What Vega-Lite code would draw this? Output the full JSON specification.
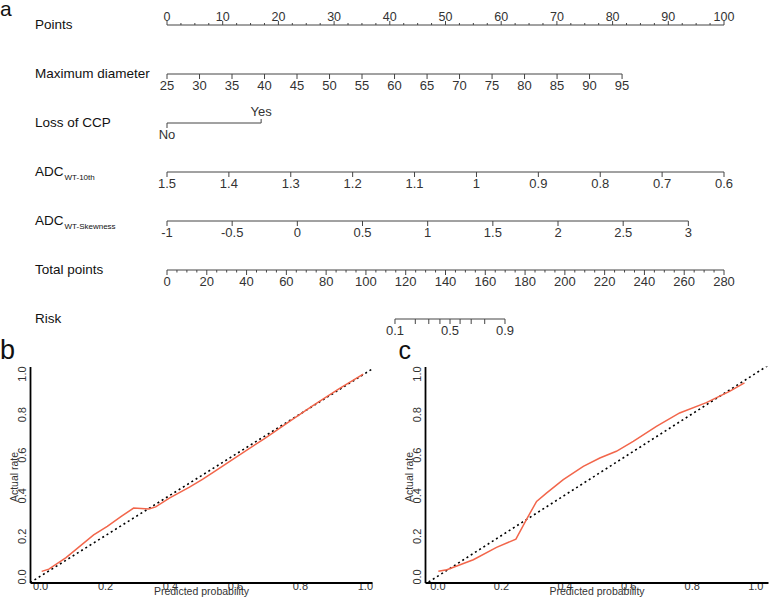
{
  "$schema": "https://vega.github.io/schema/vega-lite/v6.json",
  "padding": {"left": 0, "top": -2, "right": 0, "bottom": 0},
  "background": "white",
  "bounds": "flush",
  "spacing": 25.5,
  "config": {"font": "Liberation Sans", "view": {"stroke": null}},
  "datasets": {
    "lines": [
      {"row": 0, "from": 0, "to": 100},
      {"row": 1, "from": 0, "to": 81.7},
      {"row": 2, "from": 0, "to": 16.9},
      {"row": 3, "from": 0, "to": 100},
      {"row": 4, "from": 0, "to": 93.6},
      {"row": 5, "from": 0, "to": 100},
      {"row": 6, "from": 40.93, "to": 60.68}
    ],
    "names": [
      {"row": 0, "name": "Points", "sub": ""},
      {"row": 1, "name": "Maximum diameter", "sub": ""},
      {"row": 2, "name": "Loss of CCP", "sub": ""},
      {"row": 3, "name": "ADC", "sub": "WT-10th"},
      {"row": 4, "name": "ADC", "sub": "WT-Skewness"},
      {"row": 5, "name": "Total points", "sub": ""},
      {"row": 6, "name": "Risk", "sub": ""}
    ],
    "ticks": [
      {"row": 0, "pts": 0, "label": "0", "minor": false},
      {"row": 0, "pts": 2.5, "label": "", "minor": true},
      {"row": 0, "pts": 5, "label": "", "minor": true},
      {"row": 0, "pts": 7.5, "label": "", "minor": true},
      {"row": 0, "pts": 10, "label": "10", "minor": false},
      {"row": 0, "pts": 12.5, "label": "", "minor": true},
      {"row": 0, "pts": 15, "label": "", "minor": true},
      {"row": 0, "pts": 17.5, "label": "", "minor": true},
      {"row": 0, "pts": 20, "label": "20", "minor": false},
      {"row": 0, "pts": 22.5, "label": "", "minor": true},
      {"row": 0, "pts": 25, "label": "", "minor": true},
      {"row": 0, "pts": 27.5, "label": "", "minor": true},
      {"row": 0, "pts": 30, "label": "30", "minor": false},
      {"row": 0, "pts": 32.5, "label": "", "minor": true},
      {"row": 0, "pts": 35, "label": "", "minor": true},
      {"row": 0, "pts": 37.5, "label": "", "minor": true},
      {"row": 0, "pts": 40, "label": "40", "minor": false},
      {"row": 0, "pts": 42.5, "label": "", "minor": true},
      {"row": 0, "pts": 45, "label": "", "minor": true},
      {"row": 0, "pts": 47.5, "label": "", "minor": true},
      {"row": 0, "pts": 50, "label": "50", "minor": false},
      {"row": 0, "pts": 52.5, "label": "", "minor": true},
      {"row": 0, "pts": 55, "label": "", "minor": true},
      {"row": 0, "pts": 57.5, "label": "", "minor": true},
      {"row": 0, "pts": 60, "label": "60", "minor": false},
      {"row": 0, "pts": 62.5, "label": "", "minor": true},
      {"row": 0, "pts": 65, "label": "", "minor": true},
      {"row": 0, "pts": 67.5, "label": "", "minor": true},
      {"row": 0, "pts": 70, "label": "70", "minor": false},
      {"row": 0, "pts": 72.5, "label": "", "minor": true},
      {"row": 0, "pts": 75, "label": "", "minor": true},
      {"row": 0, "pts": 77.5, "label": "", "minor": true},
      {"row": 0, "pts": 80, "label": "80", "minor": false},
      {"row": 0, "pts": 82.5, "label": "", "minor": true},
      {"row": 0, "pts": 85, "label": "", "minor": true},
      {"row": 0, "pts": 87.5, "label": "", "minor": true},
      {"row": 0, "pts": 90, "label": "90", "minor": false},
      {"row": 0, "pts": 92.5, "label": "", "minor": true},
      {"row": 0, "pts": 95, "label": "", "minor": true},
      {"row": 0, "pts": 97.5, "label": "", "minor": true},
      {"row": 0, "pts": 100, "label": "100", "minor": false},
      {"row": 1, "pts": 0, "label": "25", "minor": false},
      {"row": 1, "pts": 5.84, "label": "30", "minor": false},
      {"row": 1, "pts": 11.67, "label": "35", "minor": false},
      {"row": 1, "pts": 17.51, "label": "40", "minor": false},
      {"row": 1, "pts": 23.34, "label": "45", "minor": false},
      {"row": 1, "pts": 29.18, "label": "50", "minor": false},
      {"row": 1, "pts": 35.01, "label": "55", "minor": false},
      {"row": 1, "pts": 40.85, "label": "60", "minor": false},
      {"row": 1, "pts": 46.69, "label": "65", "minor": false},
      {"row": 1, "pts": 52.52, "label": "70", "minor": false},
      {"row": 1, "pts": 58.36, "label": "75", "minor": false},
      {"row": 1, "pts": 64.19, "label": "80", "minor": false},
      {"row": 1, "pts": 70.03, "label": "85", "minor": false},
      {"row": 1, "pts": 75.86, "label": "90", "minor": false},
      {"row": 1, "pts": 81.7, "label": "95", "minor": false},
      {"row": 2, "pts": 0, "label": "No", "minor": false},
      {"row": 2, "pts": 16.9, "label": "Yes", "minor": false},
      {"row": 3, "pts": 0, "label": "1.5", "minor": false},
      {"row": 3, "pts": 11.11, "label": "1.4", "minor": false},
      {"row": 3, "pts": 22.22, "label": "1.3", "minor": false},
      {"row": 3, "pts": 33.33, "label": "1.2", "minor": false},
      {"row": 3, "pts": 44.44, "label": "1.1", "minor": false},
      {"row": 3, "pts": 55.56, "label": "1", "minor": false},
      {"row": 3, "pts": 66.67, "label": "0.9", "minor": false},
      {"row": 3, "pts": 77.78, "label": "0.8", "minor": false},
      {"row": 3, "pts": 88.89, "label": "0.7", "minor": false},
      {"row": 3, "pts": 100, "label": "0.6", "minor": false},
      {"row": 4, "pts": 0, "label": "-1", "minor": false},
      {"row": 4, "pts": 11.7, "label": "-0.5", "minor": false},
      {"row": 4, "pts": 23.4, "label": "0", "minor": false},
      {"row": 4, "pts": 35.1, "label": "0.5", "minor": false},
      {"row": 4, "pts": 46.8, "label": "1", "minor": false},
      {"row": 4, "pts": 58.5, "label": "1.5", "minor": false},
      {"row": 4, "pts": 70.2, "label": "2", "minor": false},
      {"row": 4, "pts": 81.9, "label": "2.5", "minor": false},
      {"row": 4, "pts": 93.6, "label": "3", "minor": false},
      {"row": 5, "pts": 0, "label": "0", "minor": false},
      {"row": 5, "pts": 1.786, "label": "", "minor": true},
      {"row": 5, "pts": 3.571, "label": "", "minor": true},
      {"row": 5, "pts": 5.357, "label": "", "minor": true},
      {"row": 5, "pts": 7.143, "label": "20", "minor": false},
      {"row": 5, "pts": 8.929, "label": "", "minor": true},
      {"row": 5, "pts": 10.714, "label": "", "minor": true},
      {"row": 5, "pts": 12.5, "label": "", "minor": true},
      {"row": 5, "pts": 14.286, "label": "40", "minor": false},
      {"row": 5, "pts": 16.071, "label": "", "minor": true},
      {"row": 5, "pts": 17.857, "label": "", "minor": true},
      {"row": 5, "pts": 19.643, "label": "", "minor": true},
      {"row": 5, "pts": 21.429, "label": "60", "minor": false},
      {"row": 5, "pts": 23.214, "label": "", "minor": true},
      {"row": 5, "pts": 25, "label": "", "minor": true},
      {"row": 5, "pts": 26.786, "label": "", "minor": true},
      {"row": 5, "pts": 28.571, "label": "80", "minor": false},
      {"row": 5, "pts": 30.357, "label": "", "minor": true},
      {"row": 5, "pts": 32.143, "label": "", "minor": true},
      {"row": 5, "pts": 33.929, "label": "", "minor": true},
      {"row": 5, "pts": 35.714, "label": "100", "minor": false},
      {"row": 5, "pts": 37.5, "label": "", "minor": true},
      {"row": 5, "pts": 39.286, "label": "", "minor": true},
      {"row": 5, "pts": 41.071, "label": "", "minor": true},
      {"row": 5, "pts": 42.857, "label": "120", "minor": false},
      {"row": 5, "pts": 44.643, "label": "", "minor": true},
      {"row": 5, "pts": 46.429, "label": "", "minor": true},
      {"row": 5, "pts": 48.214, "label": "", "minor": true},
      {"row": 5, "pts": 50, "label": "140", "minor": false},
      {"row": 5, "pts": 51.786, "label": "", "minor": true},
      {"row": 5, "pts": 53.571, "label": "", "minor": true},
      {"row": 5, "pts": 55.357, "label": "", "minor": true},
      {"row": 5, "pts": 57.143, "label": "160", "minor": false},
      {"row": 5, "pts": 58.929, "label": "", "minor": true},
      {"row": 5, "pts": 60.714, "label": "", "minor": true},
      {"row": 5, "pts": 62.5, "label": "", "minor": true},
      {"row": 5, "pts": 64.286, "label": "180", "minor": false},
      {"row": 5, "pts": 66.071, "label": "", "minor": true},
      {"row": 5, "pts": 67.857, "label": "", "minor": true},
      {"row": 5, "pts": 69.643, "label": "", "minor": true},
      {"row": 5, "pts": 71.429, "label": "200", "minor": false},
      {"row": 5, "pts": 73.214, "label": "", "minor": true},
      {"row": 5, "pts": 75, "label": "", "minor": true},
      {"row": 5, "pts": 76.786, "label": "", "minor": true},
      {"row": 5, "pts": 78.571, "label": "220", "minor": false},
      {"row": 5, "pts": 80.357, "label": "", "minor": true},
      {"row": 5, "pts": 82.143, "label": "", "minor": true},
      {"row": 5, "pts": 83.929, "label": "", "minor": true},
      {"row": 5, "pts": 85.714, "label": "240", "minor": false},
      {"row": 5, "pts": 87.5, "label": "", "minor": true},
      {"row": 5, "pts": 89.286, "label": "", "minor": true},
      {"row": 5, "pts": 91.071, "label": "", "minor": true},
      {"row": 5, "pts": 92.857, "label": "260", "minor": false},
      {"row": 5, "pts": 94.643, "label": "", "minor": true},
      {"row": 5, "pts": 96.429, "label": "", "minor": true},
      {"row": 5, "pts": 98.214, "label": "", "minor": true},
      {"row": 5, "pts": 100, "label": "280", "minor": false},
      {"row": 6, "pts": 40.93, "label": "0.1", "minor": false},
      {"row": 6, "pts": 44.58, "label": "", "minor": false},
      {"row": 6, "pts": 47.0, "label": "", "minor": false},
      {"row": 6, "pts": 49.0, "label": "", "minor": false},
      {"row": 6, "pts": 50.81, "label": "0.5", "minor": false},
      {"row": 6, "pts": 52.62, "label": "", "minor": false},
      {"row": 6, "pts": 54.61, "label": "", "minor": false},
      {"row": 6, "pts": 57.04, "label": "", "minor": false},
      {"row": 6, "pts": 60.68, "label": "0.9", "minor": false}
    ],
    "calB": [
      {"p": 0.005, "a": 0.025}, {"p": 0.027, "a": 0.036}, {"p": 0.08, "a": 0.093},
      {"p": 0.165, "a": 0.205}, {"p": 0.207, "a": 0.247}, {"p": 0.25, "a": 0.296},
      {"p": 0.288, "a": 0.337}, {"p": 0.335, "a": 0.332}, {"p": 0.356, "a": 0.343},
      {"p": 0.398, "a": 0.386}, {"p": 0.46, "a": 0.44}, {"p": 0.5, "a": 0.478},
      {"p": 0.54, "a": 0.52}, {"p": 0.605, "a": 0.59}, {"p": 0.69, "a": 0.678},
      {"p": 0.775, "a": 0.772}, {"p": 0.84, "a": 0.842}, {"p": 0.92, "a": 0.925},
      {"p": 0.995, "a": 0.997}
    ],
    "calC": [
      {"p": 0.003, "a": 0.025}, {"p": 0.03, "a": 0.033}, {"p": 0.113, "a": 0.082},
      {"p": 0.186, "a": 0.143}, {"p": 0.247, "a": 0.184}, {"p": 0.28, "a": 0.28},
      {"p": 0.312, "a": 0.37}, {"p": 0.343, "a": 0.411}, {"p": 0.396, "a": 0.477},
      {"p": 0.459, "a": 0.543}, {"p": 0.511, "a": 0.584}, {"p": 0.563, "a": 0.617},
      {"p": 0.616, "a": 0.666}, {"p": 0.689, "a": 0.74}, {"p": 0.762, "a": 0.806},
      {"p": 0.846, "a": 0.857}, {"p": 0.919, "a": 0.912}, {"p": 0.966, "a": 0.954}
    ],
    "diag": [{"p": -0.2, "a": -0.2}, {"p": 1.2, "a": 1.2}]
  },
  "vconcat": [
    {
      "width": 739,
      "height": 330,
      "encoding": {
        "y": {"field": "row", "type": "quantitative", "axis": null,
              "scale": {"domain": [0, 6], "range": [14, 308], "nice": false, "zero": false}}
      },
      "layer": [
        {
          "data": {"name": "lines"},
          "mark": {"type": "rule", "color": "#444", "strokeWidth": 1},
          "encoding": {
            "x": {"field": "from", "type": "quantitative", "axis": null,
                  "scale": {"domain": [0, 100], "range": [137, 694], "nice": false, "zero": false}},
            "x2": {"field": "to"}
          }
        },
        {
          "data": {"name": "ticks"},
          "transform": [{"filter": "(datum.row == 0 || datum.label == 'Yes') && !datum.minor"}],
          "mark": {"type": "rule", "color": "#444", "strokeWidth": 1, "y2Offset": -4},
          "encoding": {
            "x": {"field": "pts", "type": "quantitative", "axis": null},
            "y2": {"field": "row"}
          }
        },
        {
          "data": {"name": "ticks"},
          "transform": [{"filter": "datum.row == 0 && datum.minor"}],
          "mark": {"type": "rule", "color": "#444", "strokeWidth": 1, "y2Offset": -2},
          "encoding": {
            "x": {"field": "pts", "type": "quantitative", "axis": null},
            "y2": {"field": "row"}
          }
        },
        {
          "data": {"name": "ticks"},
          "transform": [{"filter": "datum.row != 0 && datum.label != 'Yes' && !datum.minor"}],
          "mark": {"type": "rule", "color": "#444", "strokeWidth": 1, "y2Offset": 5},
          "encoding": {
            "x": {"field": "pts", "type": "quantitative", "axis": null},
            "y2": {"field": "row"}
          }
        },
        {
          "data": {"name": "ticks"},
          "transform": [{"filter": "datum.row != 0 && datum.minor"}],
          "mark": {"type": "rule", "color": "#444", "strokeWidth": 1, "y2Offset": 2.5},
          "encoding": {
            "x": {"field": "pts", "type": "quantitative", "axis": null},
            "y2": {"field": "row"}
          }
        },
        {
          "data": {"name": "ticks"},
          "transform": [{"filter": "datum.row == 0 && datum.label != ''"}],
          "mark": {"type": "text", "fontSize": 12.5, "color": "#333", "align": "center", "baseline": "middle", "dy": -8},
          "encoding": {
            "x": {"field": "pts", "type": "quantitative", "axis": null},
            "text": {"field": "label"}
          }
        },
        {
          "data": {"name": "ticks"},
          "transform": [{"filter": "datum.label == 'Yes'"}],
          "mark": {"type": "text", "fontSize": 13, "color": "#333", "align": "center", "baseline": "middle", "dy": -11},
          "encoding": {
            "x": {"field": "pts", "type": "quantitative", "axis": null},
            "text": {"field": "label"}
          }
        },
        {
          "data": {"name": "ticks"},
          "transform": [{"filter": "datum.row != 0 && datum.label != '' && datum.label != 'Yes'"}],
          "mark": {"type": "text", "fontSize": 13, "color": "#333", "align": "center", "baseline": "middle", "dy": 11.5},
          "encoding": {
            "x": {"field": "pts", "type": "quantitative", "axis": null},
            "text": {"field": "label"}
          }
        },
        {
          "data": {"name": "names"},
          "mark": {"type": "text", "fontSize": 13.5, "color": "#111", "align": "left", "baseline": "middle", "dx": -132},
          "encoding": {
            "x": {"datum": 0, "type": "quantitative", "axis": null},
            "text": {"field": "name"}
          }
        },
        {
          "data": {"name": "names"},
          "transform": [{"filter": "datum.sub != ''"}],
          "mark": {"type": "text", "fontSize": 8, "color": "#111", "align": "left", "baseline": "middle", "dx": -102.5, "dy": 5.5},
          "encoding": {
            "x": {"datum": 0, "type": "quantitative", "axis": null},
            "text": {"field": "sub"}
          }
        },
        {
          "data": {"values": [{"row": 0}]},
          "mark": {"type": "text", "text": "a", "fontSize": 21, "color": "#111", "align": "left", "baseline": "alphabetic", "dx": -167, "dy": -9.5},
          "encoding": {
            "x": {"datum": 0, "type": "quantitative", "axis": null}
          }
        }
      ]
    },
    {
      "hconcat": [
        {
          "width": 342,
          "height": 216,
          "layer": [
            {
              "data": {"name": "diag"},
              "mark": {"type": "line", "color": "black", "strokeWidth": 1.6, "strokeDash": [2, 3], "clip": true},
              "encoding": {
                "x": {"field": "p", "type": "quantitative",
                      "scale": {"domain": [-0.031, 1.022], "nice": false, "zero": false},
                      "axis": {"values": [0, 0.2, 0.4, 0.6, 0.8, 1], "format": ".1f", "ticks": false, "grid": false,
                               "domainColor": "black", "domainWidth": 1.8, "labelFontSize": 11, "labelColor": "#333",
                               "labelPadding": -2, "labelFlush": false, "title": "Predicted probability",
                               "titleFontSize": 10.5, "titleFontWeight": "normal", "titleColor": "#333", "titlePadding": -5}},
                "y": {"field": "a", "type": "quantitative",
                      "scale": {"domain": [-0.03, 1.035], "nice": false, "zero": false},
                      "axis": {"values": [0, 0.2, 0.4, 0.6, 0.8, 1], "format": ".1f", "ticks": false, "grid": false,
                               "domainColor": "black", "domainWidth": 1.8, "labelFontSize": 11, "labelColor": "#333",
                               "labelAngle": 270, "labelAlign": "center", "labelBaseline": "bottom", "labelPadding": 2.5,
                               "labelFlush": false, "title": "Actual rate", "titleFontSize": 10.5, "titleFontWeight": "normal",
                               "titleColor": "#333", "titleX": -16, "titleY": 110, "titleAngle": 270,
                               "titleAlign": "center", "titleBaseline": "middle"}}
              }
            },
            {
              "data": {"name": "calB"},
              "mark": {"type": "line", "color": "#F2664B", "strokeWidth": 1.5},
              "encoding": {
                "x": {"field": "p", "type": "quantitative"},
                "y": {"field": "a", "type": "quantitative"}
              }
            },
            {
              "data": {"values": [{"k": "b"}]},
              "mark": {"type": "text", "text": "b", "fontSize": 27, "color": "#111", "align": "left", "baseline": "alphabetic", "dx": -40, "dy": -15},
              "encoding": {
                "x": {"datum": 0, "type": "quantitative"},
                "y": {"datum": 1, "type": "quantitative"}
              }
            }
          ]
        },
        {
          "width": 343,
          "height": 216,
          "layer": [
            {
              "data": {"name": "diag"},
              "mark": {"type": "line", "color": "black", "strokeWidth": 1.6, "strokeDash": [2, 3], "clip": true},
              "encoding": {
                "x": {"field": "p", "type": "quantitative",
                      "scale": {"domain": [-0.039, 1.04], "nice": false, "zero": false},
                      "axis": {"values": [0, 0.2, 0.4, 0.6, 0.8, 1], "format": ".1f", "ticks": false, "grid": false,
                               "domainColor": "black", "domainWidth": 1.8, "labelFontSize": 11, "labelColor": "#333",
                               "labelPadding": -2, "labelFlush": false, "title": "Predicted probability",
                               "titleFontSize": 10.5, "titleFontWeight": "normal", "titleColor": "#333", "titlePadding": -5}},
                "y": {"field": "a", "type": "quantitative",
                      "scale": {"domain": [-0.03, 1.035], "nice": false, "zero": false},
                      "axis": {"values": [0, 0.2, 0.4, 0.6, 0.8, 1], "format": ".1f", "ticks": false, "grid": false,
                               "domainColor": "black", "domainWidth": 1.8, "labelFontSize": 11, "labelColor": "#333",
                               "labelAngle": 270, "labelAlign": "center", "labelBaseline": "bottom", "labelPadding": 2.5,
                               "labelFlush": false, "title": "Actual rate", "titleFontSize": 10.5, "titleFontWeight": "normal",
                               "titleColor": "#333", "titleX": -16, "titleY": 110, "titleAngle": 270,
                               "titleAlign": "center", "titleBaseline": "middle"}}
              }
            },
            {
              "data": {"name": "calC"},
              "mark": {"type": "line", "color": "#F2664B", "strokeWidth": 1.5},
              "encoding": {
                "x": {"field": "p", "type": "quantitative"},
                "y": {"field": "a", "type": "quantitative"}
              }
            },
            {
              "data": {"values": [{"k": "c"}]},
              "mark": {"type": "text", "text": "c", "fontSize": 25, "color": "#111", "align": "left", "baseline": "alphabetic", "dx": -39, "dy": -15},
              "encoding": {
                "x": {"datum": 0, "type": "quantitative"},
                "y": {"datum": 1, "type": "quantitative"}
              }
            }
          ]
        }
      ],
      "spacing": 53,
      "bounds": "flush"
    }
  ]
}
